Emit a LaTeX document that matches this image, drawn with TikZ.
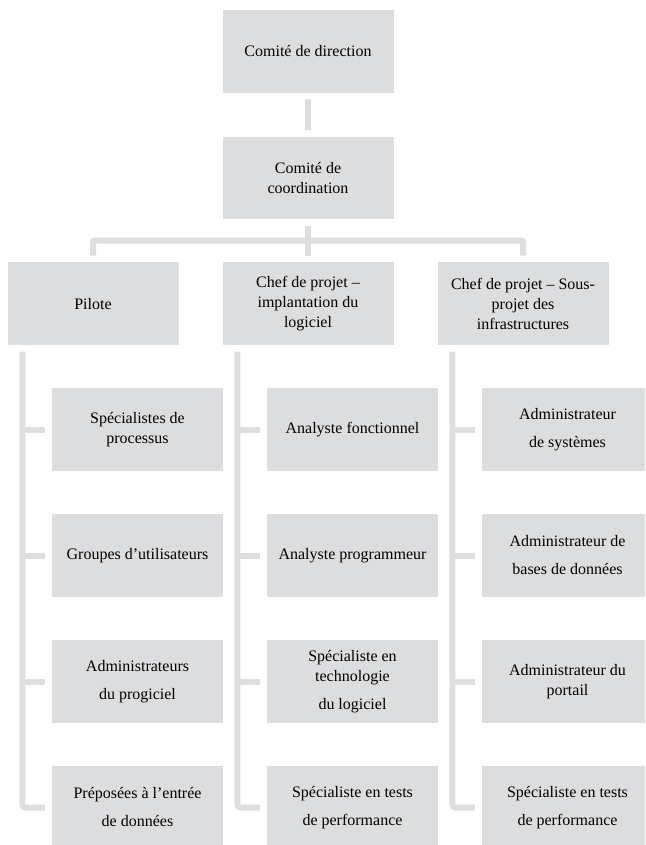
\documentclass[tikz,border=0pt]{standalone}
\usepackage{fontspec}
\setmainfont{Liberation Serif}
\usetikzlibrary{calc}
\definecolor{boxgray}{RGB}{220,221,223}
\definecolor{linkgray}{RGB}{221,222,224}
\tikzset{
  box/.style={fill=boxgray, minimum width=171pt, minimum height=82.5pt, inner sep=0pt, align=center, font=\fontsize{16}{20}\selectfont},
  link/.style={draw=linkgray, line width=6pt},
  gap/.style={shorten <=6.5pt, shorten >=6.5pt},
  stub/.style={link, shorten >=7pt}
}

\begin{document}
\begin{tikzpicture}[x=1pt, y=-1pt]
\useasboundingbox (0,0) rectangle (645,845);
\clip (0,0) rectangle (645,845);

\node[box] (direction) at (308, 51.3) {Comité de direction};
\node[box] (coordination) at (308, 177.8) {Comité de\\coordination};

\node[box] (pilote) at (93, 303.6) {Pilote};
\node[box] (implantation) at (308, 303.6) {Chef de projet –\\implantation du\\logiciel};
\node[box] (infrastructures) at (523, 303.6) {Chef de projet – Sous-\\projet des\\infrastructures};

\node[box] (specialistes) at (137.5, 429.5) {Spécialistes de\\processus};
\node[box] (groupes) at (137.5, 555.5) {Groupes d’utilisateurs};
\node[box] (administrateurs) at (137.5, 681.5) {Administrateurs\\[8pt]du progiciel};
\node[box] (preposees) at (137.5, 807.5) {Préposées à l’entrée\\[8pt]de données};

\node[box] (fonctionnel) at (352.5, 429.5) {Analyste fonctionnel};
\node[box] (programmeur) at (352.5, 555.5) {Analyste programmeur};
\node[box] (technologie) at (352.5, 681.5) {Spécialiste en\\technologie\\[8pt]du logiciel};
\node[box] (testslogiciel) at (352.5, 807.5) {Spécialiste en tests\\[8pt]de performance};

\node[box] (systemes) at (567.5, 429.5) {Administrateur\\[8pt]de systèmes};
\node[box] (bases) at (567.5, 555.5) {Administrateur de\\[8pt]bases de données};
\node[box] (portail) at (567.5, 681.5) {Administrateur du\\portail};
\node[box] (testsinfra) at (567.5, 807.5) {Spécialiste en tests\\[8pt]de performance};

\coordinate (barre) at (308, 240.5);
\coordinate (pilote-l) at ($(pilote.south west)+(15,6.5)$);
\coordinate (implantation-l) at ($(implantation.south west)+(15,6.5)$);
\coordinate (infrastructures-l) at ($(infrastructures.south west)+(15,6.5)$);

\draw[link, gap] (direction.south) -- (coordination.north);
\draw[link, gap] (coordination.south) -- (implantation.north);
\draw[link, gap, rounded corners=2pt] (pilote.north) |- (barre) -| (infrastructures.north);

\draw[stub, rounded corners=3pt] (pilote-l) |- (preposees.west);
\draw[stub] (specialistes.west -| pilote-l) -- (specialistes.west);
\draw[stub] (groupes.west -| pilote-l) -- (groupes.west);
\draw[stub] (administrateurs.west -| pilote-l) -- (administrateurs.west);

\draw[stub, rounded corners=3pt] (implantation-l) |- (testslogiciel.west);
\draw[stub] (fonctionnel.west -| implantation-l) -- (fonctionnel.west);
\draw[stub] (programmeur.west -| implantation-l) -- (programmeur.west);
\draw[stub] (technologie.west -| implantation-l) -- (technologie.west);

\draw[stub, rounded corners=3pt] (infrastructures-l) |- (testsinfra.west);
\draw[stub] (systemes.west -| infrastructures-l) -- (systemes.west);
\draw[stub] (bases.west -| infrastructures-l) -- (bases.west);
\draw[stub] (portail.west -| infrastructures-l) -- (portail.west);
\end{tikzpicture}
\end{document}
